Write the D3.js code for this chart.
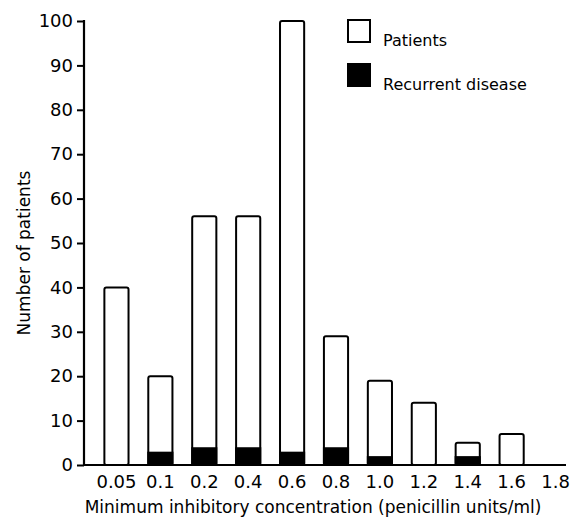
<!DOCTYPE html>
<html>
<head>
<meta charset="utf-8">
<script src="https://cdn.jsdelivr.net/npm/d3@7"></script>
<style>
  html, body { margin: 0; padding: 0; background: #fff; }
  svg { display: block; font-family: "DejaVu Sans", sans-serif; }
</style>
</head>
<body>
<svg id="chart" width="576" height="519"></svg>
<script>
const categories = ["0.05", "0.1", "0.2", "0.4", "0.6", "0.8", "1.0", "1.2", "1.4", "1.6", "1.8"];
const patients   = [40, 20, 56, 56, 100, 29, 19, 14, 5, 7, null];
const recurrent  = [0, 3, 4, 4, 3, 4, 2, 0, 2, 0, null];
const yTicks = [0, 10, 20, 30, 40, 50, 60, 70, 80, 90, 100];
const legendLabels = ["Patients", "Recurrent disease"];

const svg = d3.select("#chart");
const axisX0 = 84, axisX1 = 566, baseY = 465, topY = 21;

const x = d3.scaleBand().domain(categories).range([94.5, 577.5])
  .paddingInner(0.45).paddingOuter(0.225);
const y = d3.scaleLinear().domain([0, 100]).range([baseY, topY]);

// Y axis
const yAxis = d3.axisLeft(y).tickValues(yTicks).tickSize(7).tickPadding(4).tickFormat(d3.format("d"));
const gy = svg.append("g").attr("transform", `translate(${axisX0},0)`).call(yAxis);
gy.select(".domain").remove();
gy.selectAll(".tick line").attr("stroke", "#000").attr("stroke-width", 2);
gy.selectAll(".tick text").attr("font-size", 18).attr("fill", "#000")
  .attr("font-family", "DejaVu Sans, sans-serif");
svg.append("line").attr("x1", axisX0).attr("x2", axisX0)
  .attr("y1", y(100) - 1).attr("y2", baseY + 1)
  .attr("stroke", "#000").attr("stroke-width", 2.2);

// Bars
const data = categories.map((c, i) => ({c, p: patients[i], r: recurrent[i]})).filter(d => d.p != null);
svg.append("g").selectAll("rect").data(data).join("rect")
  .attr("x", d => x(d.c))
  .attr("y", d => y(d.p))
  .attr("width", x.bandwidth())
  .attr("height", d => baseY - y(d.p))
  .attr("rx", 2)
  .attr("fill", "#fff").attr("stroke", "#000").attr("stroke-width", 2);
svg.append("g").selectAll("rect").data(data.filter(d => d.r > 0)).join("rect")
  .attr("x", d => x(d.c) - 1)
  .attr("y", d => y(d.r))
  .attr("width", x.bandwidth() + 2)
  .attr("height", d => baseY - y(d.r))
  .attr("fill", "#000");

// X axis
const xAxis = d3.axisBottom(x).tickSize(0).tickPadding(10);
const gx = svg.append("g").attr("transform", `translate(0,${baseY})`).call(xAxis);
gx.select(".domain").remove();
gx.selectAll(".tick text").attr("font-size", 18).attr("fill", "#000")
  .attr("font-family", "DejaVu Sans, sans-serif");
svg.append("line").attr("x1", axisX0 - 1).attr("x2", axisX1)
  .attr("y1", baseY).attr("y2", baseY)
  .attr("stroke", "#000").attr("stroke-width", 2.2);

// Axis titles
svg.append("text").attr("x", 313).attr("y", 513).attr("text-anchor", "middle")
  .attr("font-size", 17).attr("fill", "#000")
  .text("Minimum inhibitory concentration (penicillin units/ml)");
svg.append("text").attr("transform", "translate(30,253) rotate(-90)")
  .attr("text-anchor", "middle").attr("font-size", 17).attr("fill", "#000")
  .text("Number of patients");

// Legend
const legend = svg.append("g");
legendLabels.forEach((lab, i) => {
  const ly = 20 + i * 44;
  legend.append("rect").attr("x", 348).attr("y", ly).attr("width", 22).attr("height", 22)
    .attr("fill", i === 0 ? "#fff" : "#000").attr("stroke", "#000").attr("stroke-width", 2);
  legend.append("text").attr("x", 383).attr("y", ly + 26).attr("font-size", 16)
    .attr("fill", "#000").text(lab);
});
</script>
</body>
</html>
